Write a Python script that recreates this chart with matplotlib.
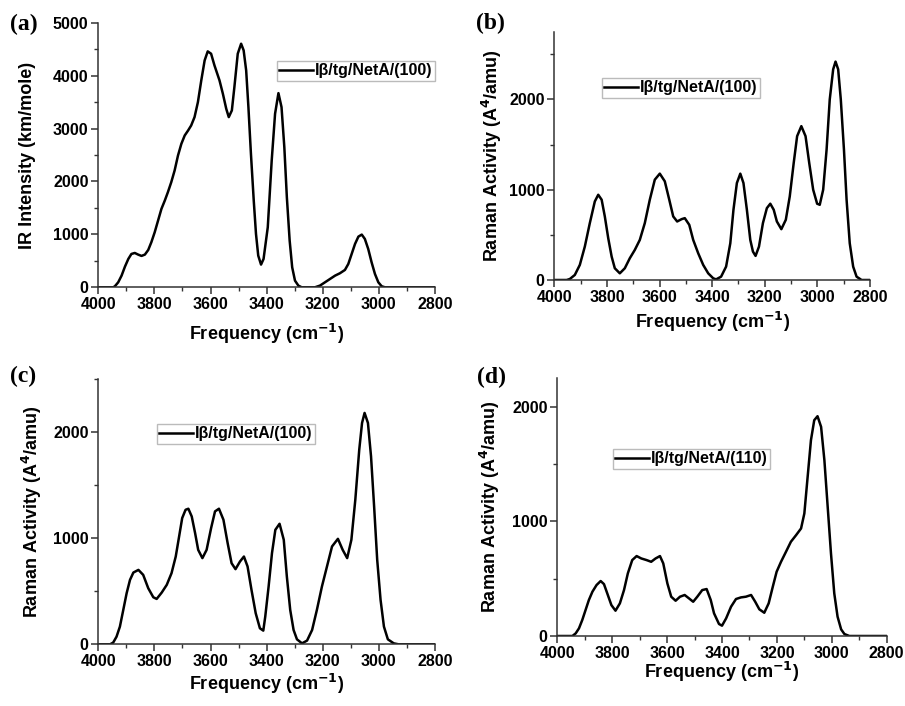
import numpy as np
import matplotlib.pyplot as plt
from matplotlib.ticker import MultipleLocator

plt.rcParams['font.family'] = ['Liberation Sans', 'DejaVu Sans']
plt.rcParams['font.weight'] = 'bold'
plt.rcParams['mathtext.default'] = 'bf'

# (a) IR spectrum
freq_a = [4000, 3947, 3941, 3929, 3917, 3905, 3893, 3882, 3870, 3858, 3846, 3834,
          3822, 3811, 3799, 3787, 3775, 3763, 3752, 3740, 3728, 3716, 3704, 3692,
          3680, 3669, 3657, 3645, 3633, 3621, 3610, 3598, 3586, 3568, 3556, 3544,
          3535, 3524, 3515, 3503, 3491, 3482, 3473, 3465, 3456, 3446, 3438, 3430,
          3420, 3411, 3396, 3382, 3370, 3358, 3347, 3337, 3328, 3318, 3309, 3299,
          3287, 3275, 3228, 3210, 3192, 3174, 3156, 3139, 3121, 3109, 3097, 3085,
          3073, 3061, 3050, 3038, 3026, 3014, 3002, 2990, 2978, 2800]
ir_a = [0, 0, 19, 95, 221, 391, 536, 630, 649, 618, 593, 618,
        706, 851, 1040, 1261, 1482, 1639, 1797, 1986, 2207, 2490, 2711, 2869,
        2963, 3058, 3216, 3499, 3909, 4287, 4458, 4414, 4193, 3909, 3657, 3373,
        3216, 3342, 3783, 4414, 4603, 4477, 4098, 3405, 2522, 1639, 1009, 599,
        429, 536, 1135, 2396, 3279, 3669, 3405, 2648, 1702, 883, 378, 126,
        32, 0, 0, 32, 95, 158, 221, 265, 328, 441, 630, 820,
        958, 996, 914, 725, 473, 252, 95, 19, 0, 0]

# (b) Raman, Ib/tg/NetA/(100)
freq_b = [4000, 3953, 3941, 3922, 3903, 3884, 3865, 3846, 3833, 3820, 3808, 3795,
          3782, 3770, 3751, 3732, 3713, 3694, 3675, 3656, 3637, 3618, 3599, 3580,
          3563, 3548, 3533, 3516, 3504, 3487, 3472, 3453, 3434, 3415, 3396, 3385,
          3366, 3347, 3331, 3319, 3306, 3293, 3281, 3268, 3255, 3245, 3235, 3222,
          3207, 3192, 3179, 3166, 3154, 3137, 3120, 3105, 3090, 3077, 3061, 3045,
          3031, 3016, 3001, 2991, 2978, 2965, 2953, 2940, 2931, 2921, 2911, 2899,
          2889, 2877, 2864, 2851, 2832, 2800]
raman_b = [0, 0, 11, 56, 167, 370, 630, 870, 944, 889, 704, 463,
           259, 130, 74, 130, 241, 333, 444, 630, 889, 1111, 1178, 1093,
           889, 704, 648, 674, 685, 611, 444, 296, 167, 74, 19, 7,
           37, 148, 407, 778, 1074, 1178, 1074, 778, 444, 315, 267, 370,
           630, 796, 845, 778, 648, 563, 667, 926, 1296, 1593, 1704, 1593,
           1296, 1000, 845, 833, 1000, 1444, 2000, 2333, 2419, 2333, 2000, 1444,
           889, 407, 148, 37, 0, 0]

# (c) Raman, Ib/tg/NetA/(100)
freq_c = [4000, 3958, 3947, 3935, 3923, 3911, 3899, 3887, 3875, 3857, 3840, 3822,
          3804, 3792, 3774, 3756, 3739, 3724, 3712, 3701, 3689, 3679, 3667, 3655,
          3644, 3629, 3614, 3598, 3584, 3570, 3554, 3539, 3525, 3511, 3495, 3481,
          3468, 3454, 3439, 3424, 3412, 3405, 3393, 3381, 3369, 3354, 3339, 3328,
          3316, 3304, 3292, 3274, 3256, 3238, 3221, 3203, 3185, 3167, 3146, 3129,
          3113, 3098, 3084, 3070, 3060, 3051, 3039, 3028, 3017, 3006, 2994, 2982,
          2968, 2947, 2930, 2800]
raman_c = [0, 0, 16, 72, 167, 324, 482, 608, 677, 702, 655, 529,
           444, 428, 488, 561, 671, 828, 1017, 1191, 1269, 1279, 1206, 1049,
           891, 813, 891, 1096, 1254, 1279, 1175, 954, 765, 709, 781, 828,
           734, 513, 293, 151, 129, 261, 545, 860, 1080, 1137, 986, 639,
           324, 135, 47, 9, 35, 135, 324, 545, 734, 923, 995, 891,
           813, 986, 1364, 1836, 2088, 2183, 2088, 1773, 1301, 797, 419, 167,
           47, 9, 0, 0]

# (d) Raman, Ib/tg/NetA/(110)
freq_d = [4000, 3945, 3933, 3921, 3909, 3897, 3885, 3872, 3857, 3842, 3830, 3818,
          3803, 3788, 3772, 3757, 3743, 3727, 3711, 3694, 3675, 3658, 3642, 3626,
          3614, 3599, 3585, 3569, 3553, 3536, 3520, 3505, 3490, 3472, 3456, 3441,
          3429, 3411, 3400, 3385, 3367, 3349, 3331, 3313, 3294, 3279, 3264, 3246,
          3230, 3215, 3201, 3185, 3167, 3149, 3130, 3112, 3100, 3088, 3076, 3064,
          3052, 3039, 3027, 3015, 3003, 2991, 2979, 2966, 2954, 2936, 2800]
raman_d = [0, 0, 23, 67, 140, 227, 314, 387, 445, 480, 453, 372,
           270, 221, 285, 401, 547, 663, 698, 677, 663, 648, 677, 698,
           634, 459, 343, 308, 343, 358, 328, 299, 343, 401, 410, 314,
           198, 105, 90, 154, 256, 323, 337, 343, 358, 299, 233, 203,
           285, 430, 561, 648, 735, 823, 881, 939, 1070, 1390, 1709, 1884,
           1919, 1826, 1535, 1128, 721, 372, 169, 58, 17, 0, 0]

ylab_raman = 'Raman Activity (A$^{4}$/amu)'
panels = [
    ('(a)', freq_a, ir_a, 'IR Intensity (km/mole)', 'I\u03b2/tg/NetA/(100)',
     (98.3, 22.7, 435, 287.3), 5000, (277, 61), (27, 340), (10, 24)),
    ('(b)', freq_b, raman_b, ylab_raman, 'I\u03b2/tg/NetA/(100)',
     (554.3, 31.7, 870, 280), 2750, (602, 78), (492, 328), (476, 23)),
    ('(c)', freq_c, raman_c, ylab_raman, 'I\u03b2/tg/NetA/(100)',
     (98.3, 379.3, 435, 644.3), 2500, (157, 424), (32, 690), (10, 376)),
    ('(d)', freq_d, raman_d, ylab_raman, 'I\u03b2/tg/NetA/(110)',
     (557.3, 378.3, 886.7, 636), 2250, (613, 449), (490, 678), (477, 377)),
]

W, H = 905, 706
fig = plt.figure(figsize=(W / 100, H / 100), dpi=100)

for tag, fx, fy, ylab, leg, box, ytop, legpos, labpos, tagpos in panels:
    x0, y0, x1, y1 = box
    ax = fig.add_axes([x0 / W, 1 - y1 / H, (x1 - x0) / W, (y1 - y0) / H])
    ax.plot(fx, fy, color='black', lw=1.8, label=leg, solid_joinstyle='round')
    ax.set_xlim(4000, 2800)
    ax.set_ylim(0, ytop)
    ax.xaxis.set_major_locator(MultipleLocator(200))
    ax.xaxis.set_minor_locator(MultipleLocator(100))
    ax.yaxis.set_major_locator(MultipleLocator(1000))
    ax.yaxis.set_minor_locator(MultipleLocator(500))
    for s in ['top', 'right']:
        ax.spines[s].set_visible(False)
    for s in ['left', 'bottom']:
        ax.spines[s].set_linewidth(1.1)
        ax.spines[s].set_color('#333333')
    ax.tick_params(which='major', direction='out', length=5, width=1.1,
                   labelsize=11.5, color='#333333', pad=2)
    ax.tick_params(which='minor', direction='out', length=3, width=1.0, color='#333333')
    for t in ax.get_xticklabels() + ax.get_yticklabels():
        t.set_fontweight('bold')
    ax.legend(loc='upper left', bbox_to_anchor=(legpos[0] / W, 1 - legpos[1] / H),
              bbox_transform=fig.transFigure, borderaxespad=0, frameon=True,
              fancybox=False, edgecolor='#bbbbbb', framealpha=1,
              handlelength=2.1, handletextpad=0.15, borderpad=0.15,
              prop={'weight': 'bold', 'size': 11.5})
    cx = (x0 + x1) / 2
    fig.text(cx / W, 1 - labpos[1] / H, 'Frequency (cm$^{-1}$)', ha='center',
             va='baseline', fontsize=13, fontweight='bold')
    fig.text(labpos[0] / W, 1 - (y0 + y1) / 2 / H, ylab, rotation=90, ha='center',
             va='center', fontsize=13, fontweight='bold')
    fig.text(tagpos[0] / W, 1 - tagpos[1] / H, tag, ha='left', va='center',
             fontsize=17, fontweight='bold', family='Liberation Serif')

fig.savefig('out.png', dpi=100)
